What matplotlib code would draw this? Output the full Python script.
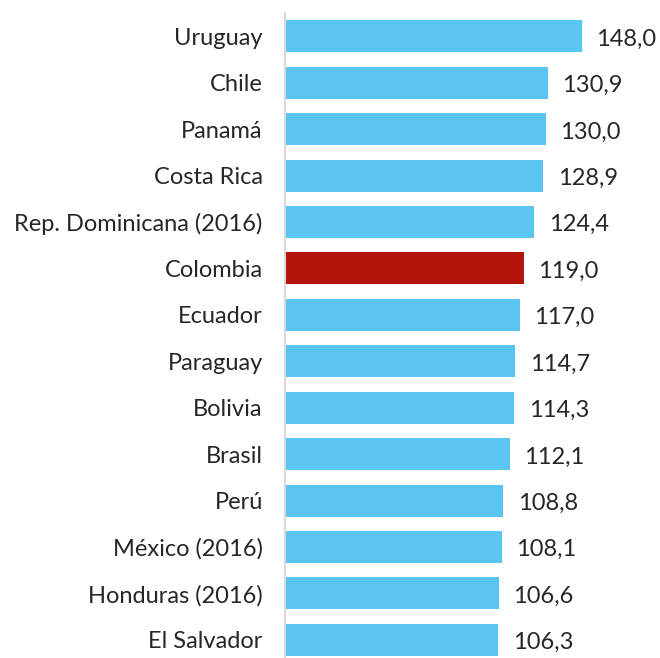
import matplotlib.pyplot as plt

paises = ["Uruguay", "Chile", "Panamá", "Costa Rica", "Rep. Dominicana (2016)",
          "Colombia", "Ecuador", "Paraguay", "Bolivia", "Brasil", "Perú",
          "México (2016)", "Honduras (2016)", "El Salvador"]
valores = [148.0, 130.9, 130.0, 128.9, 124.4, 119.0, 117.0, 114.7, 114.3,
           112.1, 108.8, 108.1, 106.6, 106.3]
destacado = "Colombia"

plt.rcParams['font.family'] = ['Lato', 'DejaVu Sans']

fig = plt.figure(figsize=(6.6, 6.58), dpi=100)
ax = fig.add_axes([285/660, 0, 375/660, 645/658])

colores = ["#B5140C" if p == destacado else "#5BC5F2" for p in paises]
pos = list(range(len(paises)))
barras = ax.barh(pos, valores, height=0.69, color=colores)

for b, v in zip(barras, valores):
    ax.annotate(f"{v:.1f}".replace(".", ","),
                xy=(b.get_width(), b.get_y() + b.get_height() / 2),
                xytext=(10.5, -2), textcoords="offset points",
                va="center", ha="left", fontsize=17, color="#262626")

ax.set_yticks(pos)
ax.set_yticklabels(paises, fontsize=17, color="#262626")
ax.tick_params(axis="y", length=0, pad=16)
ax.set_xlim(0, 187)
ax.set_ylim(13.39, -0.5)
ax.set_xticks([])
for s in ["top", "right", "bottom"]:
    ax.spines[s].set_visible(False)
ax.spines["left"].set_color("#D9D9D9")
ax.spines["left"].set_linewidth(1.5)

fig.savefig("out.png", dpi=100)
